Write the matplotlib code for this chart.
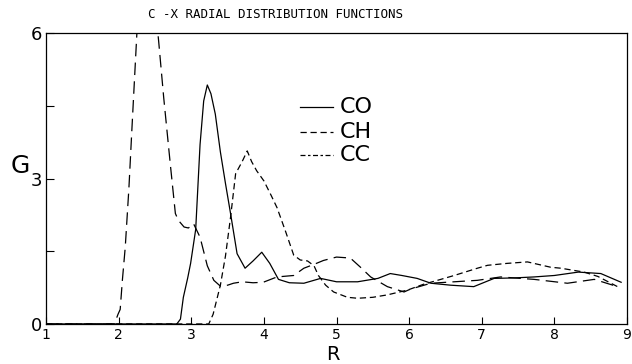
import numpy as np
import matplotlib.pyplot as plt

# C-O radial distribution (solid)
r_co = [1.0, 2.80, 2.85, 2.89, 2.95, 2.99, 3.06, 3.12, 3.17, 3.22, 3.27, 3.33, 3.40, 3.47,
        3.54, 3.63, 3.74, 3.85, 3.97, 4.08, 4.20, 4.35, 4.55, 4.78, 5.00, 5.29, 5.57, 5.74,
        5.90, 6.11, 6.30, 6.57, 6.89, 7.17, 7.45, 7.72, 8.00, 8.33, 8.64, 8.92]
g_co = [0.0, 0.0, 0.1, 0.55, 0.95, 1.25, 1.95, 3.7, 4.6, 4.93, 4.75, 4.33, 3.55, 2.9,
        2.28, 1.45, 1.15, 1.3, 1.48, 1.25, 0.92, 0.85, 0.84, 0.94, 0.87, 0.87, 0.94, 1.04,
        1.0, 0.94, 0.84, 0.8, 0.77, 0.94, 0.95, 0.97, 1.0, 1.07, 1.04, 0.86]

# C-H radial distribution (long dash)
r_ch = [1.0, 1.94, 1.99, 2.02, 2.05, 2.09, 2.14, 2.18, 2.25, 2.32, 2.42, 2.50, 2.55, 2.62,
        2.71, 2.78, 2.82, 2.90, 2.96, 3.03, 3.12, 3.22, 3.31, 3.40, 3.50, 3.58, 3.70, 3.85,
        3.99, 4.18, 4.41, 4.55, 4.69, 4.82, 5.00, 5.19, 5.33, 5.47, 5.70, 5.93, 6.02, 6.30,
        6.62, 6.94, 7.26, 7.72, 8.18, 8.55, 8.87]
g_ch = [0.0, 0.0, 0.2, 0.3, 0.9, 1.59, 2.8, 3.98, 6.0, 7.2, 7.4, 6.6, 5.83, 4.66,
        3.3, 2.28, 2.14, 2.0, 1.98, 2.07, 1.79, 1.2, 0.9, 0.78, 0.8, 0.84, 0.87, 0.85,
        0.86, 0.97, 1.0, 1.15, 1.23, 1.31, 1.38, 1.36, 1.17, 0.97, 0.77, 0.66, 0.72, 0.84,
        0.87, 0.9, 0.97, 0.92, 0.84, 0.92, 0.77]

# C-C radial distribution (short dash)
r_cc = [1.0, 3.24, 3.30, 3.40, 3.47, 3.54, 3.61, 3.70, 3.77, 3.83, 3.90, 4.00, 4.10, 4.18,
        4.30, 4.41, 4.50, 4.60, 4.69, 4.75, 4.85, 4.96, 5.15, 5.29, 5.50, 5.70, 5.98, 6.20,
        6.39, 6.62, 6.94, 7.08, 7.35, 7.63, 7.95, 8.09, 8.41, 8.60, 8.87]
g_cc = [0.0, 0.0, 0.2, 0.8, 1.4, 2.2, 3.1, 3.35, 3.57, 3.35, 3.16, 2.95, 2.65, 2.4,
        1.9, 1.42, 1.32, 1.3, 1.2, 1.0, 0.8, 0.66, 0.55, 0.53, 0.55, 0.6, 0.7, 0.82,
        0.9, 1.0, 1.15, 1.21, 1.25, 1.28, 1.17, 1.15, 1.07, 0.98, 0.77]

fig = plt.figure(figsize=(6.32, 3.64), dpi=100)
ax = fig.add_axes([0.073, 0.110, 0.919, 0.799])

ch_ls = (0, (10, 5))
cc_ls = (0, (5, 3))
ax.plot(r_co, g_co, c='k', lw=0.9, ls='-')
ax.plot(r_ch, g_ch, c='k', lw=0.9, ls=ch_ls)
ax.plot(r_cc, g_cc, c='k', lw=0.9, ls=cc_ls)

ax.set_xlim(1, 9)
ax.set_ylim(0, 6)
ax.set_xticks(range(1, 10))
ax.set_yticks([0, 1.5, 3, 4.5, 6])
# the "3" label doubles as the subscript of G3
ax.set_yticklabels(['0', '', '3', '', '6'], fontsize=13)
ax.tick_params(axis='x', direction='in', length=5, width=0.8, labelsize=10, pad=3)
ax.tick_params(axis='y', direction='in', length=6, width=0.8, pad=3)
for s in ax.spines.values():
    s.set_linewidth(0.9)

# legend drawn by hand like the original
leg_y = [4.47, 3.96, 3.48]
leg_lab = ['CO', 'CH', 'CC']
leg_ls = ['-', (0, (5, 3)), (0, (4, 2, 2, 2))]
for yv, lab, ls in zip(leg_y, leg_lab, leg_ls):
    ax.plot([4.5, 4.95], [yv, yv], c='k', lw=0.9, ls=ls)
    ax.text(5.05, yv, lab, fontsize=16, va='center', ha='left')

fig.text(275 / 632, 1 - 15 / 364, 'C -X RADIAL DISTRIBUTION FUNCTIONS',
         family='DejaVu Sans Mono', fontsize=9, ha='center', va='center')
fig.text(11 / 632, 1 - 166 / 364, 'G', fontsize=18, ha='left', va='center')
fig.text(333 / 632, 1 - 354 / 364, 'R', fontsize=14, ha='center', va='center')

fig.savefig('out.png', dpi=100)
